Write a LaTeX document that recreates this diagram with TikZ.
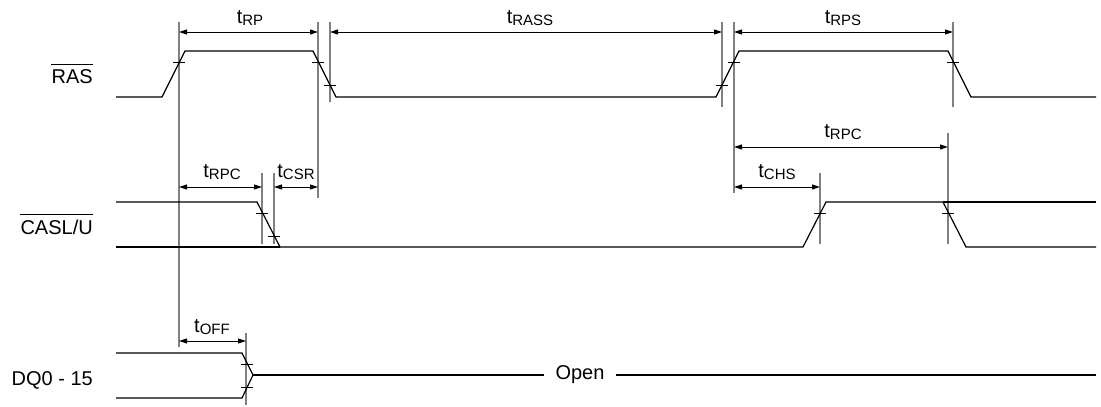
\documentclass[tikz,border=0pt]{standalone}
\usepackage{fontspec}
\setmainfont{Liberation Sans}
\usetikzlibrary{arrows.meta}
\newcommand\tsub[1]{t\raisebox{-2bp}{\fontsize{15bp}{15bp}\selectfont #1}}
\begin{document}
\begin{tikzpicture}[x=1bp,y=-1bp,
  sig/.style={line width=1.2bp,line join=miter},
  guide/.style={line width=1.5bp,draw=gray},
  dimarrow/.style={line width=1bp,{Triangle[length=8bp,width=5bp]}-{Triangle[length=8bp,width=5bp]}},
  tickmark/.style={line width=0.9bp},
  lbl/.style={anchor=base,inner sep=0pt,font=\fontsize{20bp}{24bp}\selectfont},
  signame/.style={anchor=base east,inner sep=0pt,font=\fontsize{20bp}{24bp}\selectfont},
  bar/.style={line width=1bp}]
\useasboundingbox (0,0) rectangle (1101,406);

% signal names
\node[signame] (ras) at (93,83) {RAS};
\draw[bar] ([yshift=4.5bp]ras.north west) -- ([yshift=4.5bp]ras.north east);
\node[signame] (cas) at (93,234) {CASL/U};
\draw[bar] ([yshift=4.5bp]cas.north west) -- ([yshift=4.5bp]cas.north east);
\node[signame] (dq) at (93,385) {DQ0 - 15};

% guide lines
\draw[guide] (179,22) coordinate (a1) -- (179,347) coordinate (a1b);
\draw[guide] (318,22) coordinate (a2) -- (318,198) coordinate (a2b);
\draw[guide] (330,22) coordinate (a3) -- (330,102);
\draw[guide] (722,22) coordinate (a4) -- (722,107);
\draw[guide] (734,22) coordinate (a5) -- (734,193);
\draw[guide] (953,22) coordinate (a6) -- (953,107);
\draw[guide] (262,173) coordinate (b1) -- (262,244);
\draw[guide] (274,173) coordinate (b2) -- (274,244);
\draw[guide] (820,173) coordinate (b3) -- (820,244);
\draw[guide] (948,133) coordinate (b4) -- (948,244);
\draw[guide] (246,333) coordinate (c1) -- (246,405);

% RAS signal
\draw[sig] (116,97) -- (162,97) -- (185,51) -- (313,51) -- (336,97) -- (716,97) -- (739,51) -- (948,51) -- (971,97) -- (1096,97);
% CAS signal
\draw[sig] (116,202) -- (257,202) -- (280,247) -- (803,247) -- (826,202) -- (943,202) -- (966,247) -- (1096,247);
\draw[sig] (116,247) -- (280,247);
\draw[sig] (943,202) -- (1096,202);
% DQ signal
\node[lbl,anchor=center,inner xsep=11bp,inner ysep=2bp] (open) at (580,375) {Open};
\draw[sig] (116,353) -- (242,353) -- (253,375) coordinate (dqx);
\draw[sig] (116,398) -- (242,398) -- (dqx);
\draw[sig] (dqx) -- (open.west);
\draw[sig] (open.east) -- (1096,375);

% tick marks
\foreach \x/\y in {179/62, 318/62, 330/85, 722/85, 734/62, 953/62,
                   262/213, 274/236, 820/213, 948/213,
                   247/364, 247/387}
  \draw[tickmark] (\x-6,\y) -- (\x+6,\y);

% dimension arrows
\draw[dimarrow] (a1 |- 0,32) -- (a2 |- 0,32);
\draw[dimarrow] (a3 |- 0,32) -- (a4 |- 0,32);
\draw[dimarrow] (a5 |- 0,32) -- (a6 |- 0,32);
\draw[dimarrow] (a1 |- 0,187) -- (b1 |- 0,187);
\draw[dimarrow] (b2 |- 0,187) -- (a2 |- 0,187);
\draw[dimarrow] (a5 |- 0,147) -- (b4 |- 0,147);
\draw[dimarrow] (a5 |- 0,187) -- (b3 |- 0,187);
\draw[dimarrow] (a1 |- 0,341) -- (c1 |- 0,341);

% labels
\node[lbl] (lrp) at (250,23) {\tsub{RP}};
\node[lbl] (lrass) at (530,23) {\tsub{RASS}};
\node[lbl] (lrps) at (843,23) {\tsub{RPS}};
\node[lbl] (lrpc1) at (222,177) {\tsub{RPC}};
\node[lbl] (lcsr) at (296,177) {\tsub{CSR}};
\node[lbl] (lrpc2) at (843,137) {\tsub{RPC}};
\node[lbl] (lchs) at (777,177) {\tsub{CHS}};
\node[lbl] (loff) at (212,332) {\tsub{OFF}};
\end{tikzpicture}
\end{document}
